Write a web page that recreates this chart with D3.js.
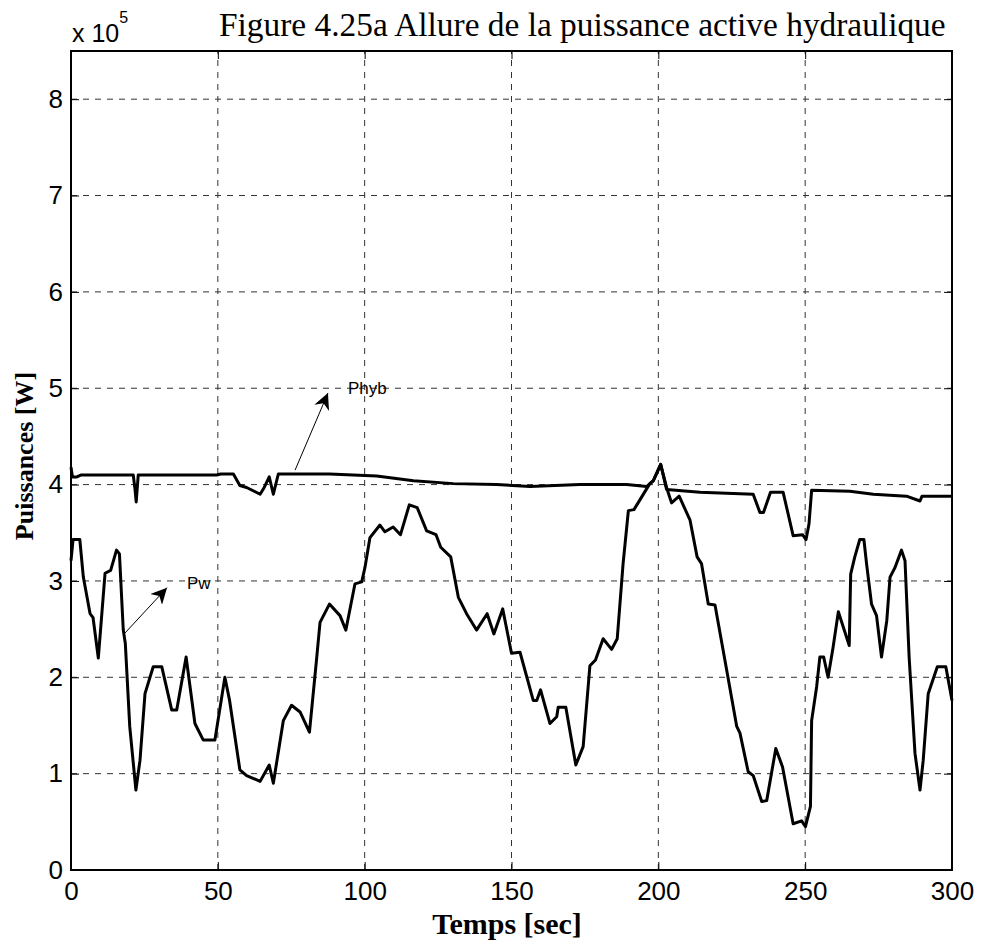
<!DOCTYPE html>
<html>
<head>
<meta charset="utf-8">
<script src="https://cdn.jsdelivr.net/npm/d3@7/dist/d3.min.js"></script>
<style>
  html, body { margin: 0; padding: 0; background: #fff; }
  svg { display: block; }
</style>
</head>
<body>
<svg id="chart" width="981" height="944"></svg>
<script>
// Wind power Pw (x 1e5 W) sampled over time (s)
const pwTime = [0, 0.7, 3, 4.2, 6.5, 7.5, 9.3, 11.6, 13.5, 15.5, 16.5, 17.8, 18.5, 20, 22.1, 23.5, 25.2, 28, 30.9, 34.3, 36, 39.2, 42.2, 45, 49, 52.4, 54, 57.5, 59.8, 64.4, 67.5, 68.9, 72.3, 75.1, 78, 81.2, 83.6, 84.8, 88, 91.6, 93.6, 96.7, 99, 100.1, 101.8, 105.2, 106.9, 109.7, 112.2, 115.2, 117.9, 121.1, 124.3, 125.9, 129.3, 131.9, 134.7, 138.1, 141.7, 144, 147, 150, 152.9, 157.4, 158.6, 159.9, 163.1, 165.4, 165.9, 168.5, 171.9, 174.4, 176.7, 178.6, 181.2, 184.1, 186, 188, 189.8, 191.7, 194.3, 197.1, 198.3, 200.8, 202.8, 204.5, 207.1, 210.8, 213.2, 214.7, 217, 219.3, 223.3, 226.7, 227.8, 230.6, 232.3, 235.2, 236.9, 240, 242.3, 245.9, 248.8, 250.1, 251.8, 252.2, 253.9, 255, 256.3, 257.8, 259.5, 261.3, 265, 265.5, 266.9, 268.6, 270, 270.9, 272.6, 274.3, 276, 277.8, 278.9, 280.6, 282.8, 284, 285.4, 287.4, 289.1, 290.2, 291.9, 295, 297.9, 300];
const pwValue = [3.21, 3.43, 3.43, 3.04, 2.66, 2.62, 2.20, 3.08, 3.11, 3.32, 3.28, 2.49, 2.35, 1.49, 0.83, 1.14, 1.83, 2.11, 2.11, 1.66, 1.66, 2.21, 1.52, 1.35, 1.35, 2.00, 1.76, 1.04, 0.98, 0.92, 1.09, 0.90, 1.55, 1.71, 1.64, 1.43, 2.18, 2.57, 2.76, 2.64, 2.49, 2.97, 2.99, 3.14, 3.45, 3.58, 3.51, 3.56, 3.48, 3.79, 3.76, 3.52, 3.48, 3.35, 3.25, 2.83, 2.66, 2.49, 2.66, 2.45, 2.71, 2.25, 2.26, 1.76, 1.76, 1.87, 1.52, 1.59, 1.69, 1.69, 1.09, 1.28, 2.12, 2.18, 2.40, 2.29, 2.40, 3.18, 3.73, 3.74, 3.87, 4.01, 4.04, 4.21, 3.97, 3.81, 3.88, 3.63, 3.25, 3.18, 2.76, 2.75, 2.07, 1.49, 1.42, 1.02, 0.98, 0.71, 0.72, 1.26, 1.07, 0.48, 0.51, 0.45, 0.66, 1.55, 1.90, 2.21, 2.21, 2.00, 2.31, 2.68, 2.33, 3.07, 3.25, 3.43, 3.43, 3.18, 2.76, 2.64, 2.21, 2.59, 3.04, 3.14, 3.32, 3.21, 2.21, 1.21, 0.83, 1.14, 1.83, 2.11, 2.11, 1.76];

// Hybrid power Phyb (x 1e5 W)
const phTime = [0, 0.5, 2, 3.5, 4.8, 21.2, 21.8, 22.2, 22.9, 49.6, 51, 55.3, 57.5, 59.8, 64.4, 65.8, 67.5, 68.9, 70.6, 88, 104.1, 116.6, 130.2, 144.9, 156.3, 173.3, 189.2, 196, 198.3, 200.8, 202.8, 214.2, 232.3, 234.6, 235.8, 238.2, 242.5, 245.9, 249.1, 250.3, 251.3, 252.2, 265.2, 273.2, 284.5, 289.1, 289.8, 300];
const phValue = [4.18, 4.08, 4.08, 4.10, 4.10, 4.10, 3.95, 3.82, 4.10, 4.10, 4.11, 4.11, 3.99, 3.97, 3.90, 3.97, 4.08, 3.90, 4.11, 4.11, 4.09, 4.04, 4.01, 4.00, 3.98, 4.00, 4.00, 3.98, 4.04, 4.21, 3.95, 3.92, 3.90, 3.71, 3.71, 3.92, 3.92, 3.47, 3.48, 3.43, 3.59, 3.94, 3.93, 3.90, 3.88, 3.83, 3.88, 3.88];

// Axis ticks
const xTicks = [0, 50, 100, 150, 200, 250, 300];
const yTicks = [0, 1, 2, 3, 4, 5, 6, 7, 8];

// Curve annotations: label text, arrow tail [t, v], arrow head [t, v]
const annLabels = ["Phyb", "Pw"];
const annTail = [[76.3, 4.15], [18.4, 2.46]];
const annHead = [[87.5, 4.95], [32.7, 2.93]];

const svg = d3.select("#chart");
const L = 71, R = 952, T = 51, B = 870;
const SANS = "Liberation Sans, Arial, sans-serif";
const SERIF = "Liberation Serif, Times New Roman, serif";

const x = d3.scaleLinear().domain([0, 300]).range([L, R]);
const y = d3.scaleLinear().domain([0, 8.5]).range([B, T]);

// grid
const grid = svg.append("g").attr("stroke", "#333").attr("stroke-width", 1)
  .attr("stroke-dasharray", "6,6").attr("fill", "none");
xTicks.slice(1, -1).forEach(t => {
  grid.append("line").attr("x1", x(t)).attr("x2", x(t)).attr("y1", B).attr("y2", T);
});
yTicks.slice(1).forEach(v => {
  grid.append("line").attr("x1", L).attr("x2", R).attr("y1", y(v)).attr("y2", y(v));
});

// axes with inward ticks on all four sides
const tk = 8;
const axB = svg.append("g").attr("transform", `translate(0,${B})`)
  .call(d3.axisBottom(x).tickValues(xTicks).tickSize(-tk).tickPadding(12));
const axT = svg.append("g").attr("transform", `translate(0,${T})`)
  .call(d3.axisTop(x).tickValues(xTicks).tickSize(-tk).tickFormat(""));
const axL = svg.append("g").attr("transform", `translate(${L},0)`)
  .call(d3.axisLeft(y).tickValues(yTicks).tickSize(-tk).tickPadding(8).tickFormat(d3.format("d")));
const axR = svg.append("g").attr("transform", `translate(${R},0)`)
  .call(d3.axisRight(y).tickValues(yTicks).tickSize(-tk).tickFormat(""));
[axB, axT, axL, axR].forEach(a => {
  a.select(".domain").remove();
  a.selectAll("line").attr("stroke", "#000").attr("stroke-width", 1);
  a.selectAll("text").attr("font-family", SANS).attr("font-size", 26).attr("fill", "#000");
});
axB.selectAll("text").attr("dy", "0.71em");

// frame
svg.append("rect").attr("x", L).attr("y", T).attr("width", R - L).attr("height", B - T)
  .attr("fill", "none").attr("stroke", "#000").attr("stroke-width", 2);

// curves
const line = d3.line().x(d => x(d[0])).y(d => y(d[1]));
const pw = pwTime.map((t, i) => [t, pwValue[i]]);
const ph = phTime.map((t, i) => [t, phValue[i]]);
svg.append("path").datum(ph).attr("d", line).attr("fill", "none")
  .attr("stroke", "#000").attr("stroke-width", 3).attr("stroke-linejoin", "round");
svg.append("path").datum(pw).attr("d", line).attr("fill", "none")
  .attr("stroke", "#000").attr("stroke-width", 3).attr("stroke-linejoin", "round");

// annotations
svg.append("defs").append("marker").attr("id", "arr")
  .attr("viewBox", "0 0 10 10").attr("refX", 10).attr("refY", 5)
  .attr("markerWidth", 16).attr("markerHeight", 16).attr("markerUnits", "userSpaceOnUse")
  .attr("orient", "auto")
  .append("path").attr("d", "M0,0 L10,5 L0,10 L3,5 Z").attr("fill", "#000");
annLabels.forEach((lab, i) => {
  svg.append("line")
    .attr("x1", x(annTail[i][0])).attr("y1", y(annTail[i][1]))
    .attr("x2", x(annHead[i][0])).attr("y2", y(annHead[i][1]))
    .attr("stroke", "#000").attr("stroke-width", 1).attr("marker-end", "url(#arr)");
  svg.append("text").attr("x", x(annHead[i][0]) + 20).attr("y", y(annHead[i][1]) + 1)
    .attr("font-family", SANS).attr("font-size", 17)
    .attr("fill", "#000").text(lab);
});

// exponent
const ex = svg.append("text").attr("x", 72).attr("y", 42)
  .attr("font-family", SANS).attr("font-size", 25).attr("fill", "#000");
ex.append("tspan").text("x 10");
ex.append("tspan").attr("dy", -19).attr("font-size", 16).text("5");

// title: fitted to run from x=219 to x=946
const title = svg.append("text").attr("x", 219).attr("y", 36)
  .attr("font-family", SERIF).attr("font-size", 32)
  .attr("fill", "#000").text("Figure 4.25a Allure de la puissance active hydraulique");
const tw = title.node().getComputedTextLength();
if (tw > 0) title.attr("font-size", 32 * 727 / tw);

// axis labels
svg.append("text").attr("x", 507).attr("y", 934).attr("text-anchor", "middle")
  .attr("font-family", SERIF).attr("font-size", 30)
  .attr("font-weight", "bold").attr("fill", "#000").text("Temps [sec]");
svg.append("text").attr("transform", `translate(33,456) rotate(-90)`)
  .attr("text-anchor", "middle")
  .attr("font-family", SERIF).attr("font-size", 26)
  .attr("font-weight", "bold").attr("fill", "#000").text("Puissances [W]");
</script>
</body>
</html>
